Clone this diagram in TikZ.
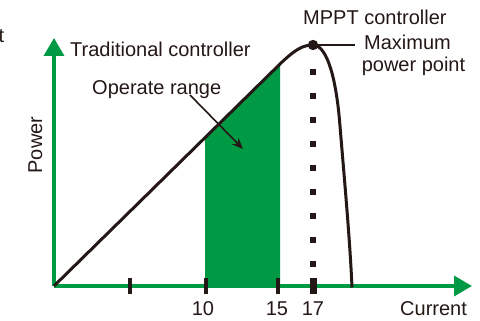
\documentclass[tikz,border=0pt]{standalone}
\usepackage{fontspec}
\setmainfont{Liberation Sans}
\usetikzlibrary{arrows.meta}
\definecolor{axgreen}{RGB}{0,153,68}
\definecolor{ink}{RGB}{35,24,21}
\begin{document}
\begin{tikzpicture}[x=1pt,y=-1pt,
  lbl/.style={inner sep=0pt,font=\fontsize{20}{24}\selectfont,text=ink},
  axis/.style={draw=axgreen,line width=3.5pt,-{Triangle[length=18pt,width=20pt]}},
  curve/.style={draw=ink,line width=3pt},
  tickmark/.style={draw=ink,line width=3.5pt},
  bigtick/.style={draw=ink,line width=7pt},
  dots/.style={draw=ink,line width=6pt,dash pattern=on 6pt off 18pt},
  pointer/.style={draw=ink,line width=1.6pt,-{Stealth[length=11pt,width=9pt]}}]
\useasboundingbox (0,0) rectangle (480,321);
% coordinates
\coordinate (O) at (54,286);
\coordinate (ytip) at (54,38);
\coordinate (xtip) at (472,286);
\coordinate (peak) at (313,45);
\coordinate (mpend) at (355,45);
% operate range fill
\fill[axgreen] (205,286) -- (205,137.5) -- (280,64) -- (280,286) -- cycle;
% axes
\draw[axis] (O) -- (ytip);
\draw[axis] (O) -- (xtip);
% ticks
\draw[tickmark] (130,278) -- (130,294);
\draw[tickmark] (206,278) -- (206,294);
\draw[tickmark] (278,278) -- (278,294);
\draw[bigtick] (313,278) -- (313,294);
% dotted line
\draw[dots] (313,69) -- (313,270);
% power curve
\draw[curve] (O) -- (280,64) .. controls (295,49.5) and (303,45) .. (peak)
  .. controls (325,45) and (335,70) .. (339.5,120)
  .. controls (344,175) and (350,240) .. (352,287.5);
% MPP marker
\draw[ink,line width=1.8pt] (peak) -- (mpend);
\fill[ink] (peak) circle (5.2);
% pointer arrow
\coordinate (pa) at (190,95);
\coordinate (pb) at (243,149);
\draw[pointer] (pa) -- (pb);
% labels
\node[lbl,anchor=base east] (tcut) at (4.5,43) {t};
\node[lbl,anchor=base west] (trad) at (70,57) {Traditional controller};
\node[lbl,anchor=base west] (oper) at (92,95) {Operate range};
\node[lbl,anchor=base west] (mppt) at (303,25) {MPPT controller};
\node[lbl,anchor=base] (max1) at (407.5,50) {Maximum};
\node[lbl,anchor=base] (max2) at (413.5,72) {power point};
\node[lbl,anchor=base,rotate=90] (power) at (42,145) {Power};
\node[lbl,anchor=base west] (cur) at (400,315) {Current};
\node[lbl,anchor=base] (t10) at (203,315) {10};
\node[lbl,anchor=base] (t15) at (277,315) {15};
\node[lbl,anchor=base] (t17) at (313,315) {17};
\end{tikzpicture}
\end{document}
